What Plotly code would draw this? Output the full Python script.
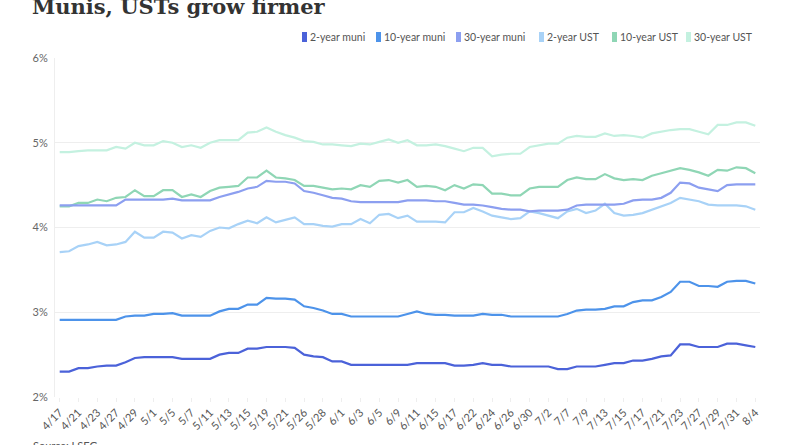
import plotly.graph_objects as go

dates = ["4/17","4/20","4/21","4/22","4/23","4/24","4/27","4/28","4/29","4/30",
         "5/1","5/4","5/5","5/6","5/7","5/8","5/11","5/12","5/13","5/14","5/15","5/18","5/19","5/20","5/21","5/22","5/26","5/27","5/28","5/29",
         "6/1","6/2","6/3","6/4","6/5","6/8","6/9","6/10","6/11","6/12","6/15","6/16","6/17","6/18","6/22","6/23","6/24","6/25","6/26","6/29","6/30",
         "7/1","7/2","7/6","7/7","7/8","7/9","7/10","7/13","7/14","7/15","7/16","7/17","7/20","7/21","7/22","7/23","7/24","7/27","7/28","7/29","7/30","7/31",
         "8/3","8/4"]

muni_2y = [2.30,2.30,2.34,2.34,2.36,2.37,2.37,2.41,2.46,2.47,2.47,2.47,2.47,2.45,2.45,2.45,2.45,2.50,2.52,
           2.52,
           2.57,2.57,2.59,2.59,2.59,2.58,2.50,2.48,2.47,2.42,2.42,2.38,2.38,2.38,2.38,2.38,2.38,2.38,
           2.40,
           2.40,2.40,2.40,2.37,2.37,2.38,2.40,2.38,2.38,2.36,2.36,2.36,2.36,2.36,2.33,2.33,2.36,2.36,
           2.36,
           2.38,2.40,2.40,2.43,2.43,2.45,2.48,2.49,2.62,2.62,2.59,2.59,2.59,2.63,2.63,2.61,2.59]

muni_10y = [2.91,2.91,2.91,2.91,2.91,2.91,2.91,2.95,2.96,2.96,2.98,2.98,2.99,2.96,2.96,2.96,2.96,3.01,3.04,
            3.04,
            3.09,3.09,3.17,3.16,3.16,3.15,3.07,3.05,3.02,2.98,2.98,2.95,2.95,2.95,2.95,2.95,2.95,2.98,
            3.01,
            2.98,2.97,2.97,2.96,2.96,2.96,2.98,2.97,2.97,2.95,2.95,2.95,2.95,2.95,2.95,2.98,3.02,3.03,
            3.03,
            3.04,3.07,3.07,3.12,3.14,3.14,3.18,3.24,3.36,3.36,3.31,3.31,3.30,3.36,3.37,3.37,3.34]

muni_30y = [4.26,4.26,4.26,4.26,4.26,4.26,4.26,4.33,4.33,4.33,4.33,4.33,4.34,4.32,4.32,4.32,4.32,4.36,4.39,
            4.42,
            4.46,4.48,4.55,4.54,4.54,4.52,4.43,4.41,4.38,4.35,4.34,4.31,4.30,4.30,4.30,4.30,4.30,4.32,
            4.32,
            4.32,4.31,4.31,4.29,4.27,4.27,4.26,4.24,4.22,4.21,4.21,4.19,4.20,4.20,4.20,4.21,4.26,4.27,
            4.27,
            4.27,4.27,4.28,4.32,4.33,4.33,4.35,4.41,4.53,4.52,4.47,4.45,4.43,4.50,4.51,4.51,4.51]

ust_2y = [3.71,3.72,3.78,3.80,3.83,3.79,3.80,3.83,3.95,3.88,3.88,3.95,3.94,3.87,3.91,3.89,3.96,4.00,3.99,
          4.04,
          4.08,4.05,4.12,4.06,4.09,4.12,4.04,4.04,4.02,4.01,4.04,4.04,4.10,4.05,4.15,4.16,4.11,4.14,
          4.07,
          4.07,4.07,4.06,4.18,4.18,4.23,4.19,4.14,4.12,4.10,4.11,4.19,4.17,4.14,4.11,4.19,4.22,4.17,
          4.20,
          4.28,4.17,4.14,4.15,4.17,4.21,4.25,4.29,4.35,4.33,4.31,4.27,4.26,4.26,4.26,4.25,4.21]

ust_10y = [4.25,4.25,4.29,4.29,4.33,4.31,4.35,4.36,4.44,4.37,4.37,4.44,4.44,4.36,4.39,4.36,4.43,4.47,4.48,
           4.49,
           4.59,4.59,4.67,4.59,4.58,4.56,4.49,4.49,4.47,4.45,4.46,4.45,4.50,4.48,4.55,4.56,4.53,4.56,
           4.48,
           4.49,4.48,4.44,4.50,4.46,4.51,4.50,4.40,4.40,4.38,4.38,4.46,4.48,4.48,4.48,4.56,4.59,4.57,
           4.57,
           4.63,4.58,4.56,4.57,4.56,4.61,4.64,4.67,4.70,4.68,4.65,4.61,4.68,4.67,4.71,4.70,4.64]

ust_30y = [4.89,4.89,4.90,4.91,4.91,4.91,4.95,4.93,5.00,4.97,4.97,5.02,5.00,4.95,4.97,4.94,5.00,5.03,5.03,
           5.03,
           5.12,5.13,5.18,5.13,5.09,5.06,5.02,5.01,4.98,4.98,4.97,4.96,4.99,4.98,5.01,5.04,5.00,5.03,
           4.97,
           4.97,4.98,4.96,4.93,4.90,4.94,4.94,4.84,4.86,4.87,4.87,4.95,4.97,4.99,4.99,5.06,5.08,5.07,
           5.07,
           5.11,5.08,5.09,5.08,5.06,5.11,5.13,5.15,5.16,5.16,5.13,5.10,5.21,5.21,5.24,5.24,5.20]

series_names = ["2-year muni", "10-year muni", "30-year muni", "2-year UST", "10-year UST", "30-year UST"]
series_values = [muni_2y, muni_10y, muni_30y, ust_2y, ust_10y, ust_30y]
colors = ["#4b62d9", "#4d93ea", "#8c9ff0", "#a8d2f7", "#8fd6b5", "#c4f1e0"]

tick_labels = dates[::2]
y_ticks = [2, 3, 4, 5, 6]

fig = go.Figure()
order = [5, 4, 3, 2, 1, 0]
for k in order:
    fig.add_trace(go.Scatter(x=list(range(len(dates))), y=series_values[k], mode="lines",
                             name=series_names[k], line=dict(color=colors[k], width=2.2),
                             showlegend=False, hoverinfo="skip"))

L, R, T, B = 55, 40, 58, 48
W, H = 800, 445
pw = W - L - R
ph = H - T - B

def px_x(px):
    return (px - L) / pw

def px_y(py):
    return (H - B - py) / ph

annotations = []
shapes = []
legend_x = [302, 376, 456, 539, 612, 686]
for name, c, lx in zip(series_names, colors, legend_x):
    shapes.append(dict(type="rect", xref="paper", yref="paper",
                       xsizemode="pixel", ysizemode="pixel",
                       xanchor=px_x(lx), yanchor=px_y(37),
                       x0=0, x1=5, y0=-5, y1=5,
                       fillcolor=c, line=dict(width=0), layer="above"))
    annotations.append(dict(text=name, xref="paper", yref="paper", x=px_x(lx + 6), y=px_y(37),
                            xanchor="left", yanchor="middle", showarrow=False,
                            font=dict(family="Lato", size=10.5, color="#555")))

annotations.append(dict(text="Source: LSEG", xref="paper", yref="paper",
                        x=px_x(31), y=px_y(445), xanchor="left", yanchor="middle", showarrow=False,
                        font=dict(family="Lato", size=11, color="#555")))

fig.update_layout(
    width=W, height=H,
    margin=dict(l=L, r=R, t=T, b=B),
    plot_bgcolor="white", paper_bgcolor="white",
    title=dict(text="<b>Munis, USTs grow firmer</b>", xref="container", yref="container",
               x=32 / W, xanchor="left", y=1 - 7 / H, yanchor="middle",
               font=dict(family="DejaVu Serif", size=21, color="#333")),
    annotations=annotations, shapes=shapes,
    showlegend=False,
    xaxis=dict(range=[-0.5, len(dates) - 0.5], tickmode="array",
               tickvals=list(range(0, len(dates), 2)), ticktext=tick_labels,
               tickangle=-45, tickfont=dict(family="Lato", size=11, color="#555"),
               showgrid=False, zeroline=False, showline=False,
               ticks="outside", ticklen=4, tickcolor="#eeeeee"),
    yaxis=dict(range=[2, 6], tickvals=y_ticks, ticktext=[f"{v}%" for v in y_ticks],
               tickfont=dict(family="Lato", size=11, color="#666"),
               showgrid=True, gridcolor="#eeeeee", gridwidth=1, zeroline=False,
               showline=True, linecolor="#eeeeee", ticks="", ticklabelstandoff=4),
)

fig.write_html("out.html", config={"displayModeBar": False},
               post_script="document.body.style.margin='0';")
